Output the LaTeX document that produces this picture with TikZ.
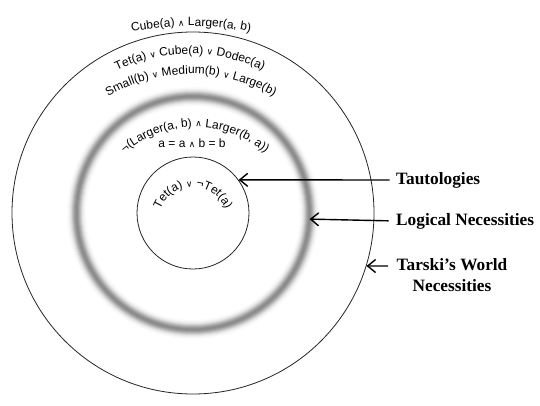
\documentclass[tikz,border=0pt]{standalone}
\usepackage{fontspec}
\setmainfont{Liberation Serif}
\newfontfamily\hvfam{Liberation Sans}
\newfontfamily\symfam{DejaVu Sans}
\usetikzlibrary{decorations.text,arrows.meta,calc}
\newcommand\hvt{\hvfam\fontsize{12}{15}\selectfont}
\newcommand\syt{\symfam\fontsize{8.8}{15}\selectfont}
\begin{document}
\begin{tikzpicture}[x=1pt,y=1pt,
  circ/.style={circle, draw=black!85, line width=0.8pt, inner sep=0pt},
  lbl/.style={font=\fontsize{17.3}{21}\selectfont\bfseries, align=center, inner sep=0pt},
  pointer/.style={-{Straight Barb[length=8pt,width=13pt]}, line width=1.4pt},
  arctext/.style={decorate, decoration={text along path, text align=center}}]
\useasboundingbox (0,0) rectangle (540,405);
\fill[white] (0,0) rectangle (540,405);
\coordinate (C) at (193,192);
% blurred ring
\foreach \w/\k in {19/1.7,17/3.3,15/6.1,13/10.3,11/16.2,9/24,7/31,5/38,3/43,1.5/45}{
  \draw[line width=\w pt, black!\k] (C) circle[radius=116.5];
}
\node[circle, minimum size=233pt, inner sep=0pt] (ring) at (C) {};
\node[circ, minimum size=362pt] (outer) at (C) {};
\node[circ, minimum size=112pt] (inner) at (C) {};
% arc texts
\path[arctext, decoration={text={|\hvt|Cube(a) |\syt|∧|\hvt| Larger(a, b)}}]
  (191,79) ++(110:300) arc[start angle=110, end angle=70, radius=300];
\path[arctext, decoration={text={|\hvt|Tet(a) |\syt|∨|\hvt| Cube(a) |\syt|∨|\hvt| Dodec(a)}}]
  (190,181) ++(130:170) arc[start angle=130, end angle=50, radius=170];
\path[arctext, decoration={text={|\hvt|Small(b) |\syt|∨|\hvt| Medium(b) |\syt|∨|\hvt| Large(b)}}]
  (191,168) ++(135:163) arc[start angle=135, end angle=45, radius=163];
\path[arctext, decoration={text={|\hvt|¬(Larger(a, b) |\syt|∧|\hvt| Larger(b, a))}}]
  (195,170) ++(150:108) arc[start angle=150, end angle=30, radius=108];
\path[arctext, decoration={text={|\hvt|Tet(a) |\syt|∨|\hvt| ¬Tet(a)}}]
  (193,183) ++(180:35) arc[start angle=180, end angle=0, radius=35];
\node[anchor=base, inner sep=0pt] (eq) at (192,258) {\hvt a = a {\syt ∧} b = b};
% labels
\node[lbl, anchor=west] (taut) at (396,225) {Tautologies};
\node[lbl, anchor=west] (logic) at (396,184) {Logical Necessities};
\node[lbl] (tarski) at (452,130) {Tarski’s World\\Necessities};
\coordinate (tstart) at (388,139);
% pointers
\draw[pointer, shorten <=6.5pt] (taut.west) -- (inner.36.1);
\draw[pointer, shorten <=7.5pt] (logic.west) -- (ring.-3.94);
\draw[pointer] (tstart) -- (outer.-17.03);
\end{tikzpicture}
\end{document}
